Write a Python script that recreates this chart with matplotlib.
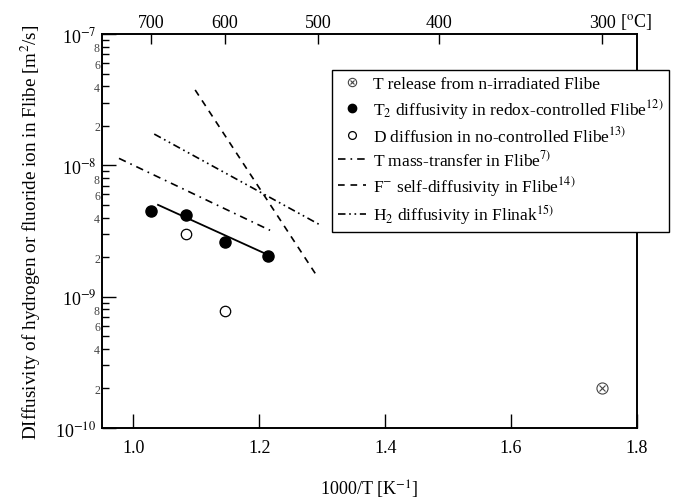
import numpy as np
import matplotlib
matplotlib.use("Agg")
import matplotlib.pyplot as plt
from matplotlib.ticker import FixedLocator, FixedFormatter, NullFormatter

plt.rcParams['font.family'] = ['Liberation Serif', 'DejaVu Serif']
plt.rcParams['mathtext.fontset'] = 'stix'

# ------------------------------------------------------------
# data (x = 1000/T in 1/K, y = D in m^2/s)
# ------------------------------------------------------------
t_release_x = [1.745]
t_release_y = [2.0e-10]

t2_x = [1.028, 1.083, 1.145, 1.214]
t2_y = [4.5e-9, 4.2e-9, 2.6e-9, 2.05e-9]
t2_fit_x = [1.039, 1.212]
t2_fit_y = [5.0e-9, 2.1e-9]

d_x = [1.083, 1.145]
d_y = [3.0e-9, 7.8e-10]

mass_x = [0.977, 1.217]
mass_y = [1.13e-8, 3.2e-9]

fself_x = [1.098, 1.293]
fself_y = [3.75e-8, 1.4e-9]

h2_x = [1.033, 1.295]
h2_y = [1.73e-8, 3.55e-9]

bottom_ticks = [1.0, 1.2, 1.4, 1.6, 1.8]
celsius_ticks = [700, 600, 500, 400, 300]
celsius_labels = ['700', '600', '500', '400', '300']

legend_labels = [
    'T release from n-irradiated Flibe',
    'T$_2$ diffusivity in redox-controlled Flibe$^{12)}$',
    'D diffusion in no-controlled Flibe$^{13)}$',
    'T mass-transfer in Flibe$^{7)}$',
    'F$^{-}$ self-diffusivity in Flibe$^{14)}$',
    'H$_2$ diffusivity in Flinak$^{15)}$',
]

# ------------------------------------------------------------
# figure
# ------------------------------------------------------------
fig = plt.figure(figsize=(6.78, 5.02), dpi=100)
ax = fig.add_axes([102 / 678, 1 - 429 / 502, 535 / 678, 394 / 502])

ax.set_yscale('log')
ax.set_xlim(0.95, 1.8)
ax.set_ylim(1e-10, 1e-7)

# circled cross = open circle + thin x
h_rel_o, = ax.plot(t_release_x, t_release_y, linestyle='none', marker='o',
                   markersize=8, markerfacecolor='white',
                   markeredgecolor='#444444', markeredgewidth=0.8)
h_rel_x, = ax.plot(t_release_x, t_release_y, linestyle='none', marker='x',
                   markersize=4.5, markeredgecolor='#444444',
                   markeredgewidth=0.8)
h_t2, = ax.plot(t2_x, t2_y, linestyle='none', marker='o',
                markersize=8, color='black')
ax.plot(t2_fit_x, t2_fit_y, color='black', linewidth=1.3)
h_d, = ax.plot(d_x, d_y, linestyle='none', marker='o', markersize=7.5,
               markerfacecolor='white', markeredgecolor='black',
               markeredgewidth=0.9)
h_mass, = ax.plot(mass_x, mass_y, color='black', linewidth=1.2,
                  dashes=(4.5, 3, 1, 3))
h_fself, = ax.plot(fself_x, fself_y, color='black', linewidth=1.2,
                   dashes=(4, 3.5))
h_h2, = ax.plot(h2_x, h2_y, color='black', linewidth=1.2,
                dashes=(4.5, 2.2, 1, 2.2, 1, 2.2))

# ------------------------------------------------------------
# ticks
# ------------------------------------------------------------
ax.xaxis.set_major_locator(FixedLocator(bottom_ticks))
ax.set_xticklabels(['%.1f' % v for v in bottom_ticks])
ax.tick_params(axis='x', which='major', direction='in', length=10,
               width=1.0, labelsize=13, pad=8, top=False)
ax.tick_params(axis='x', which='minor', bottom=False, top=False)

ax.yaxis.set_major_locator(FixedLocator([1e-10, 1e-9, 1e-8, 1e-7]))
ax.set_yticklabels(['10$^{-10}$', '10$^{-9}$', '10$^{-8}$', '10$^{-7}$'])
minor_pos = []
minor_lab = []
for dec in [1e-10, 1e-9, 1e-8]:
    for m in range(2, 10):
        minor_pos.append(m * dec)
        minor_lab.append(str(m) if m in (2, 4, 6, 8) else '')
ax.yaxis.set_minor_locator(FixedLocator(minor_pos))
ax.yaxis.set_minor_formatter(FixedFormatter(minor_lab))
ax.tick_params(axis='y', which='major', direction='in', length=10,
               width=1.0, labelsize=13, right=False, pad=4)
ax.tick_params(axis='y', which='minor', direction='in', length=5,
               width=1.0, labelsize=8.5, right=False, pad=1.5,
               labelcolor='#444444')

for s in ax.spines.values():
    s.set_linewidth(1.2)

# top axis in degC
ax_top = ax.twiny()
ax_top.set_xlim(ax.get_xlim())
top_pos = [1000.0 / (t + 273.15) for t in celsius_ticks]
ax_top.xaxis.set_major_locator(FixedLocator(top_pos))
ax_top.set_xticklabels(celsius_labels)
ax_top.xaxis.set_minor_formatter(NullFormatter())
ax_top.tick_params(axis='x', which='major', direction='in', length=7,
                   width=1.0, labelsize=13, pad=2.5)
ax_top.tick_params(axis='x', which='minor', top=False, bottom=False)
for s in ax_top.spines.values():
    s.set_linewidth(1.2)
ax_top.annotate('[$^{\\mathrm{o}}$C]', xy=(top_pos[-1], 1),
                xycoords=('data', 'axes fraction'),
                xytext=(13, 2.5), textcoords='offset points',
                ha='left', va='bottom', fontsize=13)

# ------------------------------------------------------------
# labels
# ------------------------------------------------------------
ax.set_xlabel('1000/T [K$^{-1}$]', fontsize=13, labelpad=16)
ax.set_ylabel('DIffusivity of hydrogen or fluoride ion in Flibe [m$^2$/s]',
              fontsize=13.8, labelpad=9)

# ------------------------------------------------------------
# legend (sticks out past the right spine like the original)
# ------------------------------------------------------------
leg = ax_top.legend([(h_rel_o, h_rel_x), h_t2, h_d, h_mass, h_fself, h_h2],
                    legend_labels,
                    loc='upper left',
                    bbox_to_anchor=(332 / 678, 1 - 71 / 502),
                    bbox_transform=fig.transFigure,
                    borderaxespad=0, fancybox=False, framealpha=1,
                    edgecolor='black', fontsize=12.5, handlelength=1.6,
                    handletextpad=0.4, labelspacing=0.25, markerscale=0.75,
                    borderpad=0.35)
leg.get_frame().set_linewidth(1.0)

fig.savefig('out.png', dpi=100)
